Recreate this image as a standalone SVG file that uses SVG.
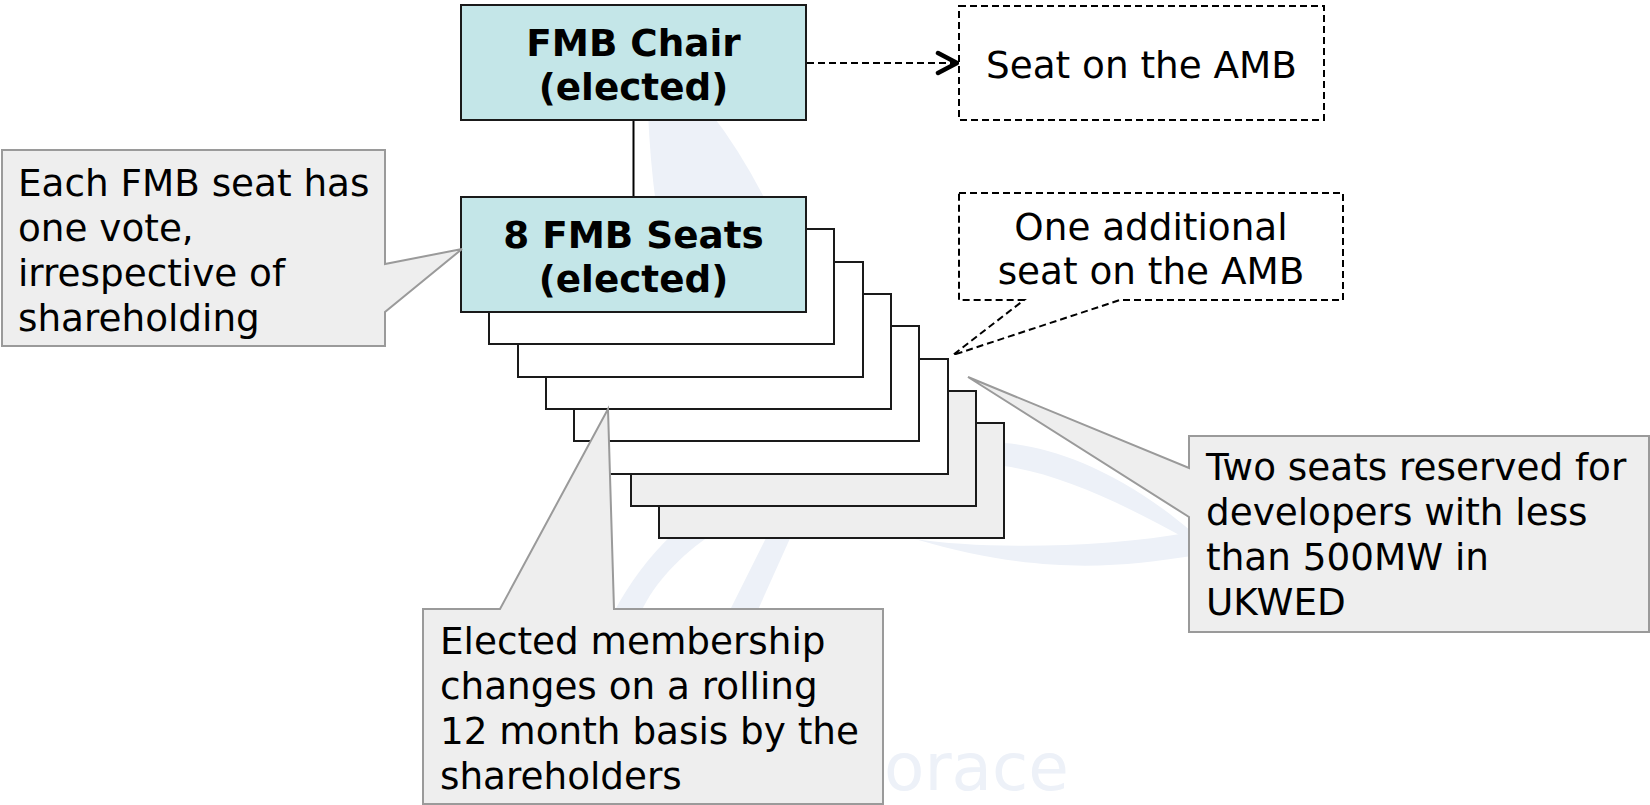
<svg xmlns="http://www.w3.org/2000/svg" width="1650" height="805" viewBox="0 0 1650 805">
  <defs>
    <style>
      .wm{fill:#edf1f8;stroke:none}
      .wmt{fill:#edf1f8;font-family:"DejaVu Sans",Verdana,sans-serif;font-size:66px}
      .box{fill:#c4e6e8;stroke:#1a1a1a;stroke-width:2}
      .card{fill:#ffffff;stroke:#1a1a1a;stroke-width:2}
      .card.g{fill:#eeeeee}
      .callout{fill:#eeeeee;stroke:#9a9a9a;stroke-width:2;stroke-linejoin:miter}
      .dash{fill:#ffffff;stroke:#000000;stroke-width:2;stroke-dasharray:7 4}
      .t{font-family:"DejaVu Sans",Verdana,"Liberation Sans",sans-serif;font-size:37.33px;fill:#000000}
      .b{font-weight:bold}
      .c{text-anchor:middle}
      .conn{fill:none;stroke:#000000;stroke-width:2}
      .conn.d{stroke-dasharray:7 4}
    </style>
    <marker id="chev" markerUnits="userSpaceOnUse" markerWidth="26" markerHeight="26" viewBox="-3 -3 26 26" refX="19" refY="10" orient="auto">
      <path d="M0,0 L19,10 L0,20" fill="none" stroke="#000" stroke-width="4.5" stroke-linecap="round" stroke-linejoin="round"/>
    </marker>
  </defs>

  <rect width="1650" height="805" fill="#ffffff"/>

  <!-- faint watermark -->
  <g id="watermark">
    <path class="wm" d="M648,112 L710,112 Q740,150 768,205 L656,205 Q650,160 648,112 Z"/>
    <path class="wm" d="M1004,443 C1050,446 1120,470 1192,532 L1192,542 C1120,502 1060,474 1004,466 Z"/>
    <path class="wm" d="M915,539 C980,549 1100,549 1192,532 L1192,556 C1120,567 1040,576 915,539 Z"/>
    <path class="wm" d="M614,612 L641,612 C655,582 680,556 712,534 L673,534 C650,555 628,585 614,612 Z"/>
    <path class="wm" d="M729,612 L757,612 L792,534 L768,534 Z"/>
    <text class="wmt" x="884" y="790">orace</text>
  </g>

  <!-- connectors -->
  <g id="connectors">
    <line class="conn" x1="633.5" y1="120" x2="633.5" y2="197"/>
    <line class="conn d" x1="807" y1="63" x2="957" y2="63" marker-end="url(#chev)"/>
  </g>

  <g id="seat-amb">
    <rect class="dash" x="959" y="6" width="365" height="114"/>
    <text class="t c" x="1141.5" y="78">Seat on the AMB</text>
  </g>

  <g id="fmb-chair">
    <rect class="box" x="461" y="5" width="345" height="115"/>
    <text class="t b c" x="633.5" y="56">FMB Chair</text>
    <text class="t b c" x="633.5" y="100">(elected)</text>
  </g>

  <g id="seat-stack">
    <rect class="card g" x="659" y="423" width="345" height="115"/>
    <rect class="card g" x="631" y="391" width="345" height="115"/>
    <rect class="card" x="603" y="359" width="345" height="115"/>
    <rect class="card" x="574" y="326" width="345" height="115"/>
    <rect class="card" x="546" y="294" width="345" height="115"/>
    <rect class="card" x="518" y="262" width="345" height="115"/>
    <rect class="card" x="489" y="229" width="345" height="115"/>
  </g>

  <g id="fmb-seats">
    <rect class="box" x="461" y="197" width="345" height="115"/>
    <text class="t b c" x="633.5" y="248">8 FMB Seats</text>
    <text class="t b c" x="633.5" y="292">(elected)</text>
  </g>

  <g id="additional-seat">
    <path class="dash" d="M959,193 H1343 V300 H1120 L953,355 L1024,300 H959 Z"/>
    <text class="t c" x="1151" y="240">One additional</text>
    <text class="t c" x="1151" y="284">seat on the AMB</text>
  </g>

  <g id="note-vote">
    <path class="callout" d="M2,150 H385 V264 L462,249 L385,312 V346 H2 Z"/>
    <text class="t" x="18" y="196">Each FMB seat has</text>
    <text class="t" x="18" y="241">one vote,</text>
    <text class="t" x="18" y="286">irrespective of</text>
    <text class="t" x="18" y="331">shareholding</text>
  </g>

  <g id="note-reserved">
    <path class="callout" d="M1189,436 H1649 V632 H1189 V517 L968,377 L1189,468 Z"/>
    <text class="t" x="1206" y="480">Two seats reserved for</text>
    <text class="t" x="1206" y="525">developers with less</text>
    <text class="t" x="1206" y="570">than 500MW in</text>
    <text class="t" x="1206" y="615">UKWED</text>
  </g>

  <g id="note-membership">
    <path class="callout" d="M423,609 H500 L608,409 L614,609 H883 V804 H423 Z"/>
    <text class="t" x="440" y="654">Elected membership</text>
    <text class="t" x="440" y="699">changes on a rolling</text>
    <text class="t" x="440" y="744">12 month basis by the</text>
    <text class="t" x="440" y="789">shareholders</text>
  </g>
</svg>
